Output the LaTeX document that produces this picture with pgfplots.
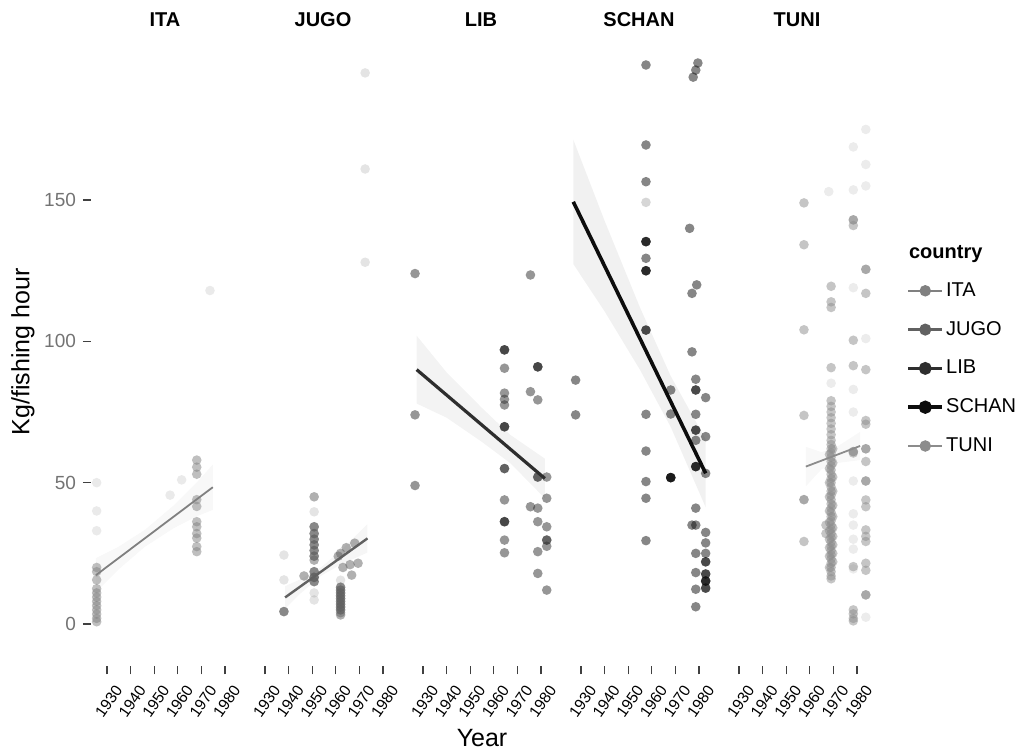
\documentclass[border=0pt]{standalone}
\usepackage{fontspec}
\setmainfont{Liberation Sans}
\usepackage{pgfplots}
\pgfplotsset{compat=1.18}

\definecolor{cITA}{gray}{0.50}
\definecolor{cJUGO}{gray}{0.38}
\definecolor{cLIB}{gray}{0.18}
\definecolor{cSCHAN}{gray}{0.05}
\definecolor{cTUNI}{gray}{0.55}

\pgfplotsset{
  facet/.style={
    at={(#1,43.3pt)}, anchor=south west, scale only axis,
    width=74pt, height=313.7pt,
    xmin=1923.2, xmax=1985.9, ymin=-15, ymax=207,
    axis x line*=bottom, axis y line*=left, axis line style={draw=none},
    xtick={1930,1940,1950,1960,1970,1980},
    xticklabels={1930,1940,1950,1960,1970,1980},
    tick align=outside, major tick length=4pt,
    tick style={black!75, line width=0.6pt},
    xticklabel style={font=\fontsize{7.8}{8}\selectfont, anchor=center, yshift=-13.5pt, xshift=0.8pt, rotate=55},
    ytick=\empty,
    clip=false,
  },
  pts/.style={only marks, mark=*, mark size=2.4pt, mark options={draw=#1, fill=#1, draw opacity=0, fill opacity=0.5}},
  faint/.style={only marks, mark=*, mark size=2.4pt, mark options={draw=#1, fill=#1, draw opacity=0, fill opacity=0.17}},
  band/.style={fill=#1, fill opacity=0.06, draw=none},
}

\begin{document}
\begin{tikzpicture}[x=1pt,y=1pt]
\useasboundingbox (0,0) rectangle (511pt,376.5pt);

% ---------------- ITA ----------------
\begin{axis}[facet=45.5pt,
  ytick={0,50,100,150}, yticklabels={0,50,100,150},
  yticklabel style={font=\fontsize{9.5}{10}\selectfont, text=black!55}]
\addplot[band=cITA] coordinates {(1925.3,23.3)(1935,27.4)(1946,33.3)(1958,41.8)(1968,50.1)(1974.8,56.4)
  (1974.8,40.4)(1968,38.1)(1958,33.8)(1946,27.3)(1935,19.4)(1925.3,11.3)} -- cycle;
\addplot[pts=cITA] table {
x y
1925.6 20
1925.6 18.5
1925.6 15.6
1925.6 12.5
1925.6 11
1925.6 9.5
1925.6 8
1925.6 6.5
1925.6 5
1925.6 3.5
1925.6 2
1925.6 0.8
1968 58
1968 55.5
1968 53
1968 44
1968 41.6
1968 36.2
1968 34.4
1968 32
1968 30.4
1968 27.4
1968 25.6
};
\addplot[faint=cITA] table {
x y
1973.6 118
1925.6 50
1925.6 40
1925.6 33
1961.6 51
1956.7 45.6
};
\addplot[cITA, line width=0.9pt] coordinates {(1925.3,17.3)(1974.8,48.4)};
\end{axis}

% ---------------- JUGO ----------------
\begin{axis}[facet=124.5pt]
\addplot[band=cJUGO] coordinates {(1938.5,13.4)(1945,15.8)(1954,20.2)(1962,26)(1973.4,35.3)
  (1973.4,25.3)(1962,21)(1954,17.2)(1945,10.8)(1938.5,5.4)} -- cycle;
\addplot[pts=cJUGO] table {
x y
1938 4.4
1938 4.4
1946.5 17
1950.8 45
1950.8 34.4
1950.8 34.4
1950.8 32
1950.8 32
1950.8 30
1950.8 30
1950.8 28
1950.8 28
1950.8 26
1950.8 26
1950.8 24
1950.8 24
1950.8 22.6
1950.8 18.5
1950.8 18.5
1950.8 16.5
1950.8 16.5
1950.8 16.5
1950.8 15
1950.8 15
1962 13
1962 13
1962 12
1962 12
1962 11
1962 11
1962 10
1962 10
1962 9
1962 9
1962 8
1962 8
1962 7
1962 7
1962 6
1962 6
1962 5
1962 5
1962 4
1962 3.2
1962 25
1964.4 27
1968 28.6
1963 20
1966 21
1969.4 21.5
1966.7 17.3
1961 24
};
\addplot[faint=cJUGO] table {
x y
1938 15.6
1938 24.4
1950.8 39.7
1950.8 11
1950.8 8.5
1962 15.5
1972.4 195
1972.4 161
1972.4 128
};
\addplot[cJUGO, line width=1.2pt] coordinates {(1938.5,9.4)(1973.4,30.3)};
\end{axis}

% ---------------- LIB ----------------
\begin{axis}[facet=203.5pt]
\addplot[band=cLIB] coordinates {(1927.3,102)(1940,89)(1955,76.4)(1967,66.9)(1981.6,58.5)
  (1981.6,44.5)(1967,56.9)(1955,64.4)(1940,73)(1927.3,78)} -- cycle;
\addplot[pts=cLIB] table {
x y
1926.6 124
1926.6 74
1926.6 49
1964.5 97
1964.5 97
1964.5 97
1964.5 90.5
1964.5 81.7
1964.5 79.5
1964.5 77.5
1964.5 69.8
1964.5 69.8
1964.5 69.8
1964.5 55
1964.5 55
1964.5 43.9
1964.5 36.2
1964.5 36.2
1964.5 36.2
1964.5 29.7
1964.5 25.2
1975.5 123.5
1975.5 82.2
1975.5 41.5
1978.6 91
1978.6 91
1978.6 91
1978.6 79.3
1978.6 52
1978.6 52
1978.6 41
1978.6 36.2
1978.6 25.6
1978.6 17.9
1982.4 52
1982.4 44.5
1982.4 34.4
1982.4 29.7
1982.4 29.7
1982.4 27.5
1982.4 12
};
\addplot[cLIB, line width=1.6pt] coordinates {(1927.3,90)(1981.6,51.5)};
\end{axis}

% ---------------- SCHAN ----------------
\begin{axis}[facet=282.5pt]
\addplot[band=cSCHAN] coordinates {(1926.7,171.4)(1940,142.6)(1955,111.9)(1968,87.7)(1982.8,65.3)
  (1982.8,41.3)(1968,69.7)(1955,89.9)(1940,110.6)(1926.7,127.4)} -- cycle;
\addplot[pts=cSCHAN] table {
x y
1927.7 86.3
1927.7 74
1957.5 197.8
1957.5 169.5
1957.5 156.5
1957.5 135.3
1957.5 135.3
1957.5 135.3
1957.5 129.4
1957.5 125
1957.5 125
1957.5 125
1957.5 104
1957.5 104
1957.5 74.2
1957.5 61.2
1957.5 50.4
1957.5 44.5
1957.5 29.5
1968 82.8
1968 74.3
1968 51.8
1968 51.8
1968 51.8
1968 51.8
1977.5 193.5
1978.6 196
1979.5 198.5
1976 140
1977 117
1979 120
1977 96.3
1978.6 86.6
1978.6 82.8
1978.6 82.8
1978.6 74.2
1978.6 68.6
1978.6 68.6
1978.6 65
1978.6 55.7
1978.6 55.7
1978.6 55.7
1978.6 41
1977 35
1978.6 35
1978.6 25
1978.6 18.2
1978.6 12.3
1978.6 6.1
1982.8 80.1
1982.8 66.3
1982.8 53.3
1982.8 32.4
1982.8 28.7
1982.8 25
1982.8 22
1982.8 22
1982.8 17.7
1982.8 17.7
1982.8 15.2
1982.8 15.2
1982.8 15.2
1982.8 12.7
1982.8 12.7
};
\addplot[faint=cSCHAN] table {
x y
1957.5 149.2
};
\addplot[cSCHAN, line width=1.8pt] coordinates {(1926.7,149.4)(1982.8,53.3)};
\end{axis}

% ---------------- TUNI ----------------
\begin{axis}[facet=361.5pt,
  legend style={at={(1.196,0.624)}, anchor=north west, draw=none, fill=none,
    font=\fontsize{10}{12}\selectfont, row sep=7.9pt,
    nodes={inner sep=1pt, text height=7.5pt, text depth=2pt}},
  legend cell align=left]
\addlegendimage{cITA, line width=0.9pt, mark=*, mark size=2.4pt, mark options={fill=cITA}}
\addlegendentry{ITA}
\addlegendimage{cJUGO, line width=1.2pt, mark=*, mark size=2.4pt, mark options={fill=cJUGO}}
\addlegendentry{JUGO}
\addlegendimage{cLIB, line width=1.6pt, mark=*, mark size=2.4pt, mark options={fill=cLIB}}
\addlegendentry{LIB}
\addlegendimage{cSCHAN, line width=1.8pt, mark=*, mark size=2.4pt, mark options={fill=cSCHAN}}
\addlegendentry{SCHAN}
\addlegendimage{cTUNI, line width=0.9pt, mark=*, mark size=2.4pt, mark options={fill=cTUNI}}
\addlegendentry{TUNI}
\addplot[band=cTUNI, forget plot] coordinates {(1958.3,62.7)(1965,60.8)(1972,63)(1981.3,68)
  (1981.3,58)(1972,57)(1965,54.8)(1958.3,48.7)} -- cycle;
\addplot[pts=cTUNI, forget plot] table {
x y
1957.5 149
1957.5 134.2
1957.5 104.1
1957.5 73.8
1957.5 44
1957.5 44
1957.5 29.2
1969 119.5
1969 114
1969 112
1969 90.7
1969 79
1969 77
1969 75
1969 73
1969 71
1969 69
1969 67
1969 65
1969 63.5
1969 62
1969 60.5
1969 59
1969 57.5
1969 56
1969 54.5
1969 53
1969 51.5
1969 50
1969 48.5
1969 47
1969 45.5
1969 44
1969 42.5
1969 41
1969 39.5
1969 38
1969 36.5
1969 35
1969 33.5
1969 32
1969 30.5
1969 29
1969 27.5
1969 26
1969 24.5
1969 23
1969 21.5
1969 20
1969 18.5
1969 17
1969 16
1968.3 60
1968.3 55
1968.3 50
1968.3 45
1968.3 40
1968.3 36
1968.3 33
1968.3 30
1968.3 27
1968.3 24
1968.3 20
1969.7 62
1969.7 57
1969.7 52
1969.7 47
1969.7 42
1969.7 38
1969.7 34
1969.7 31
1969.7 28
1969.7 25
1969.7 22
1966.8 35
1966.8 32
1978.4 143
1978.4 143
1978.4 141
1978.4 100.4
1978.4 91.4
1978.4 61
1978.4 61
1978.4 60.5
1978.4 20.3
1978.4 5
1978.4 3.6
1978.4 2
1978.4 1.1
1983.7 125.5
1983.7 125.5
1983.7 117
1983.7 90
1983.7 72
1983.7 70.7
1983.7 62
1983.7 62
1983.7 57.5
1983.7 50.6
1983.7 50.6
1983.7 43.9
1983.7 41.5
1983.7 33.3
1983.7 31
1983.7 29.2
1983.7 21.5
1983.7 19
1983.7 10.3
1983.7 10.3
};
\addplot[faint=cTUNI, forget plot] table {
x y
1968 153
1978.4 168.8
1978.4 153.6
1978.4 119
1978.4 83
1978.4 75
1978.4 50.6
1978.4 39
1978.4 35
1978.4 30
1978.4 26.5
1978.4 19.5
1983.7 175
1983.7 162.6
1983.7 155
1983.7 101
1983.7 2.4
1969 85.2
};
\addplot[cTUNI, line width=0.9pt, forget plot] coordinates {(1958.3,55.7)(1981.3,63)};
\end{axis}

% titles and labels
\begin{scope}[font=\bfseries\fontsize{10}{12}\selectfont]
\node at (82.5pt,366.5pt) {ITA};
\node at (161.5pt,366.5pt) {JUGO};
\node at (240.5pt,366.5pt) {LIB};
\node at (319.5pt,366.5pt) {SCHAN};
\node at (398.5pt,366.5pt) {TUNI};
\node[anchor=west] at (451pt,249.5pt) {country};
\end{scope}
\node[rotate=90, font=\fontsize{12.5}{14}\selectfont] at (11.5pt,200.5pt) {Kg/fishing hour};
\node[font=\fontsize{12.5}{14}\selectfont] at (241pt,7.5pt) {Year};
\end{tikzpicture}
\end{document}
